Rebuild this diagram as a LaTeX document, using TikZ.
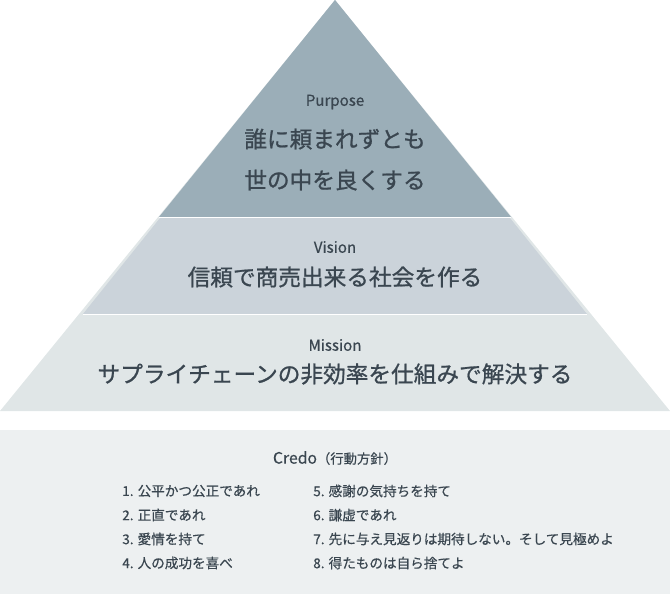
\documentclass[tikz,border=0pt]{standalone}
\usepackage{fontspec}
\setmainfont{Noto Sans CJK JP}
\newfontfamily\jpmed[FakeBold=0.9]{Noto Sans CJK JP}
\newfontfamily\jplight[FakeBold=0.5]{Noto Sans CJK JP}
\definecolor{purposegray}{HTML}{9BAEB8}
\definecolor{visiongray}{HTML}{CBD3DA}
\definecolor{missiongray}{HTML}{E0E6E7}
\definecolor{credogray}{HTML}{EDF0F1}
\definecolor{inkgray}{HTML}{3A4650}
\begin{document}
\begin{tikzpicture}[x=0.75pt,y=-0.75pt,
  tier/.style={text=inkgray,font=\jplight\fontsize{11.3}{13}\selectfont,inner sep=0pt},
  motto/.style={text=inkgray,font=\jpmed\fontsize{17}{20}\selectfont,inner sep=0pt},
  rule/.style={text=inkgray,font=\jplight\fontsize{10.2}{12}\selectfont,inner sep=0pt,anchor=west}]
  \useasboundingbox (0,0) rectangle (670,594);
  % pyramid bands
  \fill[missiongray] (0,411) -- (335,0) -- (670,411) -- cycle;
  \fill[visiongray] (83,314) -- (335,0) -- (587,314) -- cycle;
  \fill[purposegray] (159,217) -- (335,0) -- (511,217) -- cycle;
  \draw[white,line width=0.5pt] (159,217) -- (511,217);
  \draw[white,line width=0.5pt] (83,314) -- (587,314);
  % credo panel
  \fill[credogray] (0,430) rectangle (670,594);
  % texts
  \node[tier] (purpose) at (335,102) {Purpose};
  \node[motto] (purpose1) at (335,139) {誰に頼まれずとも};
  \node[motto] (purpose2) at (335,180) {世の中を良くする};
  \node[tier] (vision) at (335,247) {Vision};
  \node[motto] (vision1) at (335,277) {信頼で商売出来る社会を作る};
  \node[tier] (mission) at (335,345) {Mission};
  \node[motto] (mission1) at (335,374) {サプライチェーンの非効率を仕組みで解決する};
  \node[tier,font=\jplight\fontsize{11.8}{13}\selectfont] (credo) at (335,458) {Credo{\fontsize{10}{12}\selectfont（行動方針）}};
  \node[rule] (r1) at (122,491) {1. 公平かつ公正であれ};
  \node[rule] (r2) at (122,515) {2. 正直であれ};
  \node[rule] (r3) at (122,539) {3. 愛情を持て};
  \node[rule] (r4) at (122,563) {4. 人の成功を喜べ};
  \node[rule] (r5) at (313,491) {5. 感謝の気持ちを持て};
  \node[rule] (r6) at (313,515) {6. 謙虚であれ};
  \node[rule] (r7) at (313,539) {7. 先に与え見返りは期待しない。そして見極めよ};
  \node[rule] (r8) at (313,563) {8. 得たものは自ら捨てよ};
\end{tikzpicture}
\end{document}
